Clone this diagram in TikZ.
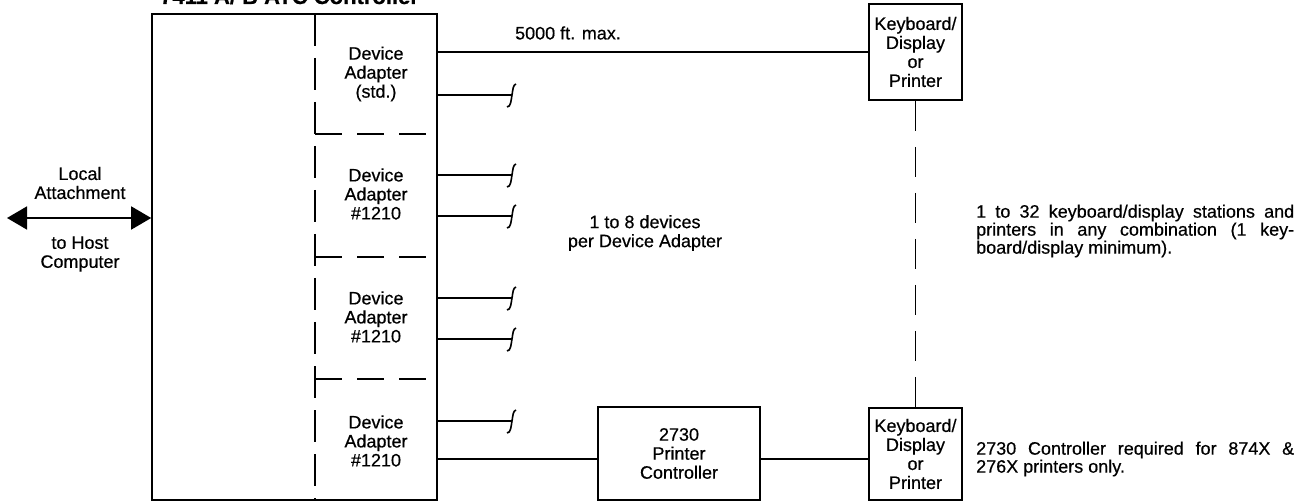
\documentclass[tikz,border=0pt]{standalone}
\usepackage{fontspec}
\setmainfont{Liberation Sans}[FakeBold=0.5]
\usetikzlibrary{arrows.meta,calc}
\begin{document}
\begin{tikzpicture}[x=1pt,y=-1pt,
  lbl/.style={font=\fontsize{18}{19}\selectfont, align=center, inner sep=0pt},
  boxed/.style={draw, line width=1.6pt, inner sep=0pt, font=\fontsize{18}{19}\selectfont, align=center},
  wire/.style={line width=1.6pt},
  dsh/.style={line width=1.6pt, dash pattern=on 27pt off 15pt},
  vdsh/.style={line width=1.6pt, dash pattern=on 32pt off 12pt},
  squig/.pic={\draw[line width=1.6pt] (-5,12) .. controls (-1,12) and (-1,5) .. (0,0) .. controls (1,-6) and (1,-10) .. (4,-11);},
  bigarrow/.style={line width=1.6pt, {Triangle[length=20pt,width=23pt]}-{Triangle[length=20pt,width=23pt]}},
]
\useasboundingbox (0,0) rectangle (1303,502);

% title (clipped at the top, as in the reference)
\node[anchor=base west, inner sep=0pt, font=\fontsize{22}{22}\bfseries\selectfont] (title) at (160,4) {7411 A/ B ATC Controller};

% main controller box
\node[boxed, minimum width=285pt, minimum height=486pt] (ctrl) at (294.5,257) {};
\draw[vdsh] (315,14) -- (315,500);
\draw[dsh] (315,134) -- (437,134);
\draw[dsh] (315,257) -- (437,257);
\draw[dsh] (315,379) -- (437,379);

\node[lbl] (ad1) at (376,74) {Device\\Adapter\\(std.)};
\node[lbl] (ad2) at (376,194) {Device\\Adapter\\\#1210};
\node[lbl] (ad3) at (376,317) {Device\\Adapter\\\#1210};
\node[lbl] (ad4) at (376,441) {Device\\Adapter\\\#1210};

% host attachment
\node[lbl] (local) at (80,183) {Local\\Attachment};
\node[lbl] (host) at (80,254) {to Host\\Computer};
\coordinate (hostend) at (7,218);
\draw[bigarrow] (hostend) -- (hostend -| ctrl.west);

% terminals
\node[boxed, minimum width=93pt, minimum height=96pt] (kb1) at (915.5,52) {Keyboard/\\Display\\or\\Printer};
\node[boxed, minimum width=93pt, minimum height=92pt] (kb2) at (915.5,454) {Keyboard/\\Display\\or\\Printer};
\node[boxed, minimum width=162pt, minimum height=93pt] (pc) at (679,453.5) {2730\\Printer\\Controller};

\draw[wire] (ctrl.east |- kb1.west) -- (kb1.west);
\node[lbl] (maxlbl) at (568,33) {5000 ft. max.};

\coordinate (link) at (0,459);
\draw[wire] (ctrl.east |- link) -- (link -| pc.west);
\draw[wire] (pc.east |- link) -- (link -| kb2.west);
\draw[line width=1.6pt, dash pattern=on 30pt off 16pt] (kb1.south) -- (kb2.north);

% stubs
\foreach \n/\y in {1/95,2/175,3/216,4/298,5/339,6/421}{
  \coordinate (s\n) at (512,\y);
  \draw[wire] (s\n -| ctrl.east) -- (s\n);
  \pic at (s\n) {squig};
}

\node[lbl] (perda) at (645,233) {1 to 8 devices\\per Device Adapter};

\node[anchor=west, inner sep=0pt, font=\fontsize{18}{18}\selectfont, align=left] (note1) at (976,231)
 {\makebox[318pt][s]{1 to 32 keyboard/display stations and}\\
  \makebox[318pt][s]{printers in any combination (1 key-}\\
  board/display minimum).};
\node[anchor=west, inner sep=0pt, font=\fontsize{18}{18}\selectfont, align=left] (note2) at (976,459)
 {\makebox[318pt][s]{2730 Controller required for 874X \&}\\
  276X printers only.};
\end{tikzpicture}
\end{document}
